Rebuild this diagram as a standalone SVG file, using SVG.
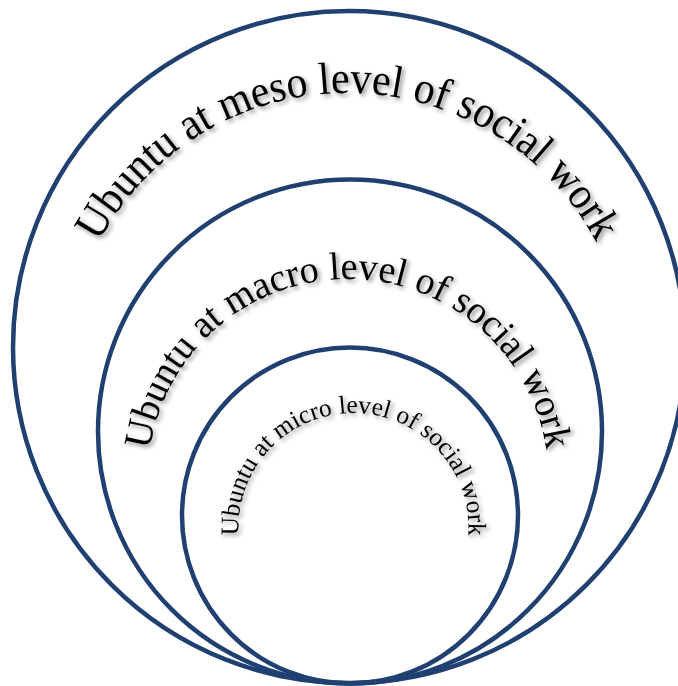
<svg xmlns="http://www.w3.org/2000/svg" width="678" height="686" viewBox="0 0 678 686">
  <defs>
    <filter id="shadow" x="-10%" y="-10%" width="120%" height="120%">
      <feDropShadow dx="2.5" dy="2.5" stdDeviation="2" flood-color="#000" flood-opacity="0.45"/>
    </filter>
    <path id="arcMeso" d="M 347.5 657 A 282 282 0 0 1 347.5 93 A 282 282 0 0 1 347.5 657"/>
    <path id="arcMacro" d="M 348 680 A 200.5 200.5 0 0 1 348 279 A 200.5 200.5 0 0 1 348 680"/>
    <path id="arcMicro" d="M 353.5 643 A 115 115 0 0 1 353.5 413 A 115 115 0 0 1 353.5 643"/>
  </defs>
  <style>
    .ring { fill: none; stroke: #1F4070; stroke-width: 4.5; }
    .label { font-family: "Liberation Serif", "Times New Roman", serif; fill: #000; filter: url(#shadow); }
  </style>
  <rect width="678" height="686" fill="#fff"/>
  <g id="outer-circle">
    <circle class="ring" cx="349" cy="347" r="336"/>
    <text class="label" font-size="45"><textPath href="#arcMeso" startOffset="50%" text-anchor="middle" textLength="609" lengthAdjust="spacingAndGlyphs">Ubuntu at meso level of social work</textPath></text>
  </g>
  <g id="middle-circle">
    <circle class="ring" cx="350" cy="431.5" r="252"/>
    <text class="label" font-size="39"><textPath href="#arcMacro" startOffset="50%" text-anchor="middle" textLength="570" lengthAdjust="spacingAndGlyphs">Ubuntu at macro level of social work</textPath></text>
  </g>
  <g id="inner-circle">
    <circle class="ring" cx="350" cy="515.5" r="168"/>
    <text class="label" font-size="25.5"><textPath href="#arcMicro" startOffset="50%" text-anchor="middle" textLength="376" lengthAdjust="spacingAndGlyphs">Ubuntu at micro level of social work</textPath></text>
  </g>
</svg>
